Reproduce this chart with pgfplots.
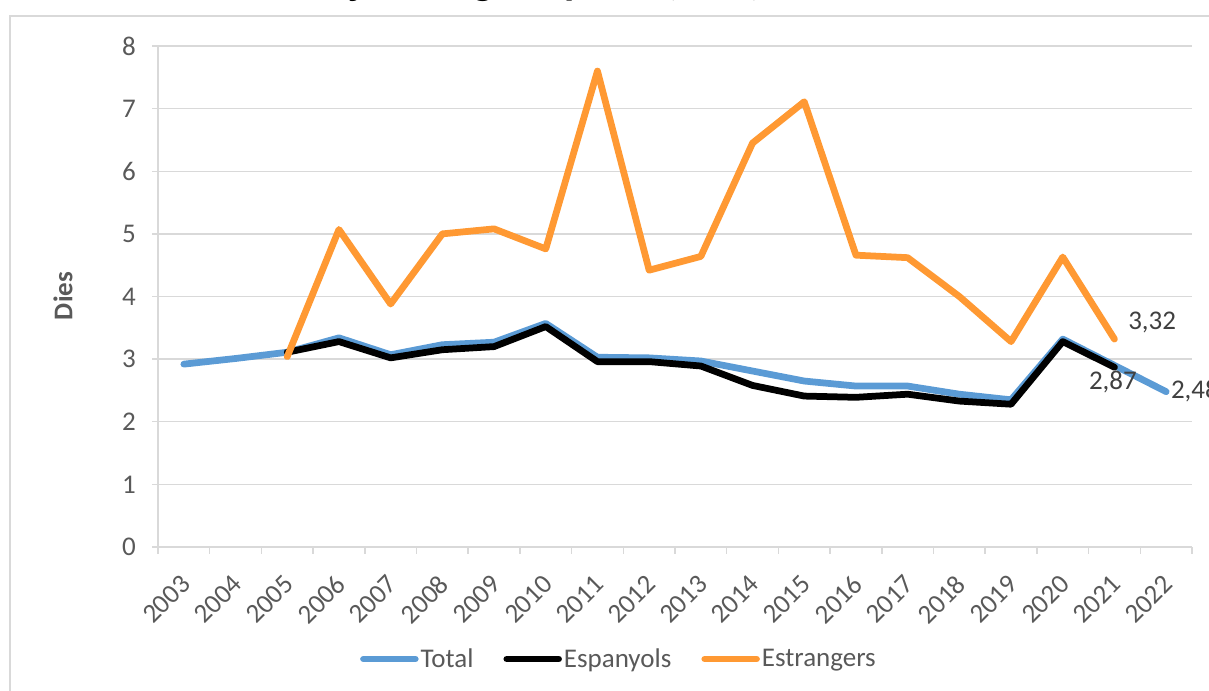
\documentclass[border=0pt]{standalone}
\usepackage{pgfplots}
\pgfplotsset{compat=1.18}
\usepackage{fontspec}
\setmainfont{Carlito}
\definecolor{gridgray}{HTML}{D9D9D9}
\definecolor{ticktext}{HTML}{595959}
\definecolor{labeltext}{HTML}{404040}
\definecolor{cblue}{HTML}{5B9BD5}
\definecolor{corange}{HTML}{FF9933}
\newcommand{\bodyfont}{\fontsize{27bp}{32bp}\selectfont}
\begin{document}
\begin{tikzpicture}
\useasboundingbox (0,0) rectangle (1209bp,691bp);
\clip (0,0) rectangle (1209bp,691bp);
\draw[gridgray, line width=1.5bp] (10bp,675bp) rectangle (1300bp,-50bp);
\node[font=\fontsize{42bp}{48bp}\selectfont\bfseries, text=black, anchor=base east, inner sep=0pt] at (763bp,696bp) {Estada mitjana segons perfil (dies)};
\node[font=\bodyfont\bfseries, text=ticktext, rotate=90, anchor=center] at (63bp,395bp) {Dies};
\begin{axis}[
  at={(158bp,144bp)}, anchor=south west,
  scale only axis, width=1034bp, height=501bp,
  xmin=-0.5, xmax=19.5, ymin=0, ymax=8,
  xtick={0,...,19},
  xticklabel={\pgfmathparse{int(round(2003+\tick))}\pgfmathresult},
  ytick={0,...,8},
  yticklabel={\pgfmathparse{int(round(\tick))}\pgfmathresult},
  minor xtick={-0.5,0.5,...,19.5},
  major x tick style={draw=none},
  tick align=outside,
  major tick length=6bp, minor tick length=7bp,
  tick style={draw=gridgray, line width=1.5bp},
  axis x line*=bottom, axis y line*=left,
  axis line style={draw=gridgray, line width=1.5bp},
  ymajorgrids, grid style={draw=gridgray, line width=1.5bp},
  tick label style={font=\bodyfont, text=ticktext},
  xticklabel style={xshift=2bp, yshift=-27bp, rotate=45, anchor=east, inner sep=0pt},
  yticklabel style={anchor=east, inner sep=0pt, xshift=-16bp},
  legend columns=3,
  legend style={draw=none, fill=none, at={(rel axis cs:0.4458,-0.2236)}, anchor=center,
    font=\bodyfont, text=ticktext, /tikz/every even column/.append style={column sep=28bp},
    /tikz/inner sep=1bp},
  legend image code/.code={\draw[line width=6.5bp, line cap=round] (0bp,0bp) -- (52bp,0bp);},
  every axis plot/.append style={line width=6.75bp, line join=round, line cap=round},
  clip=false,
]
\addplot[cblue] coordinates {
(0,2.92) (1,3.01) (2,3.11) (3,3.34) (4,3.07) (5,3.23) (6,3.27) (7,3.57) (8,3.03) (9,3.02)
(10,2.97) (11,2.81) (12,2.65) (13,2.57) (14,2.57) (15,2.44) (16,2.35) (17,3.32) (18,2.90) (19,2.48)};
\addlegendentry{Total}
\addplot[black] coordinates {
(2,3.11) (3,3.28) (4,3.02) (5,3.15) (6,3.20) (7,3.52) (8,2.96) (9,2.96) (10,2.89) (11,2.58)
(12,2.41) (13,2.39) (14,2.44) (15,2.33) (16,2.28) (17,3.28) (18,2.87)};
\addlegendentry{Espanyols}
\addplot[corange] coordinates {
(2,3.04) (3,5.07) (4,3.88) (5,5.00) (6,5.08) (7,4.76) (8,7.60) (9,4.42) (10,4.64) (11,6.45)
(12,7.11) (13,4.66) (14,4.62) (15,4.00) (16,3.28) (17,4.63) (18,3.32)};
\addlegendentry{Estrangers}
\node[font=\bodyfont, text=labeltext, anchor=center] at (axis cs:18.73,3.59) {3,32};
\node[font=\bodyfont, text=labeltext, anchor=center] at (axis cs:17.97,2.63) {2,87};
\node[font=\bodyfont, text=labeltext, anchor=west, inner sep=0pt] at (axis cs:19.09,2.49) {2,48};
\end{axis}
\end{tikzpicture}
\end{document}
